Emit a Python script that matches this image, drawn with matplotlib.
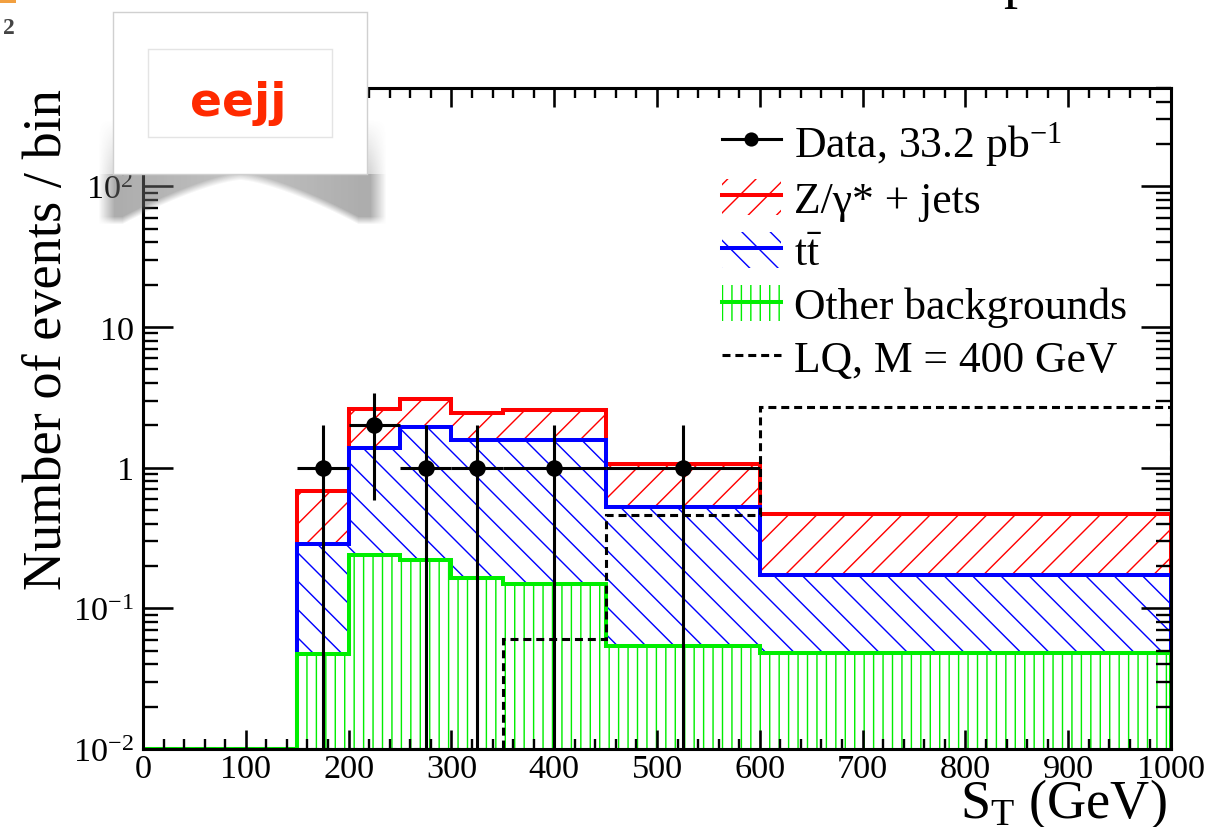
import numpy as np
import matplotlib
matplotlib.use("Agg")
import matplotlib.pyplot as plt
from matplotlib.lines import Line2D
from matplotlib.patches import Rectangle
from matplotlib.ticker import FixedLocator, MultipleLocator, LogLocator, NullFormatter

plt.rcParams["font.family"] = ["Liberation Serif", "DejaVu Serif"]
plt.rcParams["mathtext.fontset"] = "custom"
plt.rcParams["mathtext.rm"] = "Liberation Serif"
plt.rcParams["mathtext.it"] = "Liberation Serif:italic"
plt.rcParams["mathtext.bf"] = "Liberation Serif:bold"
plt.rcParams["hatch.linewidth"] = 0.6

# S_T binning (GeV)
bin_edges = [0, 150, 200, 250, 300, 350, 450, 600, 1000]

# background components, events / bin
other_bkg = [0, 0.047, 0.24, 0.22, 0.165, 0.15, 0.054, 0.048]
ttbar = [0, 0.24, 1.14, 1.71, 1.42, 1.43, 0.47, 0.124]
zjets = [0, 0.39, 1.22, 1.17, 0.87, 0.97, 0.53, 0.30]

# LQ signal, M = 400 GeV
lq_400 = [0, 0, 0, 0, 0, 0.061, 0.46, 2.7]

# data, 33.2 pb-1
data_lo = [150, 200, 250, 300, 350, 450]
data_hi = [200, 250, 300, 350, 450, 600]
data_counts = [1, 2, 1, 1, 1, 1]

x_ticks = [0, 100, 200, 300, 400, 500, 600, 700, 800, 900, 1000]
y_ticks = [0.01, 0.1, 1, 10, 100]
y_tick_labels = ["$10^{-2}$", "$10^{-1}$", "1", "10", "$10^{2}$"]

legend_labels = ["Data, 33.2 pb$^{-1}$", "Z/\u03b3* + jets", r"$\mathrm{t\bar{t}}$",
                 "Other backgrounds", "LQ, M = 400 GeV"]

YMIN, YMAX = 0.01, 500

##################################################

DPI = 170
fig = plt.figure(figsize=(1209 / DPI, 828 / DPI), dpi=DPI)
ax = fig.add_axes([143 / 1209, 1 - 750 / 828, 1028 / 1209, 661 / 828])

edges = np.array(bin_edges, dtype=float)
s_other = np.array(other_bkg)
s_tt = s_other + np.array(ttbar)
s_z = s_tt + np.array(zjets)

stack = [
    (s_z, "red", "//"),
    (s_tt, "blue", "\\\\"),
    (s_other, "#00ee00", "|||"),
]

for vals, col, hatch in stack:
    v = np.maximum(vals, YMIN)
    ax.stairs(v, edges, baseline=YMIN, fill=True, facecolor="white",
              edgecolor=col, linewidth=0, hatch=hatch)
    ax.stairs(v, edges, baseline=YMIN, fill=False, color=col, linewidth=1.7)

lq = np.maximum(np.array(lq_400), YMIN)
ax.stairs(lq, edges, baseline=YMIN, fill=False, color="black",
          linewidth=1.3, linestyle=(0, (2.6, 1.6)), zorder=3)

lo = np.array(data_lo, dtype=float)
hi = np.array(data_hi, dtype=float)
n = np.array(data_counts, dtype=float)
xc = 0.5 * (lo + hi)
err_dn = n - np.maximum(n - np.sqrt(n), 1e-4)
err_up = np.sqrt(n)
ax.errorbar(xc, n, xerr=[xc - lo, hi - xc], yerr=[err_dn, err_up], fmt="o",
            color="black", ms=6, lw=1.3, capsize=0, zorder=5)

ax.set_yscale("log")
ax.set_xlim(0, 1000)
ax.set_ylim(YMIN, YMAX)

ax.xaxis.set_major_locator(FixedLocator(x_ticks))
ax.xaxis.set_minor_locator(MultipleLocator(20))
ax.set_xticklabels([str(t) for t in x_ticks])
ax.yaxis.set_major_locator(FixedLocator(y_ticks))
ax.set_yticklabels(y_tick_labels)
ax.yaxis.set_minor_locator(LogLocator(base=10, subs=np.arange(2, 10)))
ax.yaxis.set_minor_formatter(NullFormatter())

ax.tick_params(axis="both", which="both", direction="in", top=True, right=True)
ax.tick_params(axis="x", which="major", length=8, width=1.1, pad=2, labelsize=14.5)
ax.tick_params(axis="x", which="minor", length=4.2, width=1.0)
ax.tick_params(axis="y", which="major", length=12.7, width=1.1, pad=4, labelsize=14.5)
ax.tick_params(axis="y", which="minor", length=6.4, width=1.0)
for sp in ax.spines.values():
    sp.set_linewidth(1.3)

fig.text(48 / 1209, 1 - 340 / 828, "Number of events / bin", rotation=90,
         ha="center", va="center", fontsize=23)
fig.text(1167 / 1209, 1 - 818 / 828, "S$_{\\mathrm{T}}$ (GeV)", ha="right",
         va="baseline", fontsize=23)

# legend
h_data = Line2D([], [], color="black", lw=1.3, marker="o", ms=5)
handles = [h_data]
for _, col, hatch in stack:
    handles.append((Rectangle((0, 0), 1, 1, facecolor="white", edgecolor=col,
                              linewidth=0, hatch=hatch),
                    Line2D([], [], color=col, lw=1.7)))
handles.append(Line2D([], [], color="black", lw=1.3, linestyle=(0, (2.6, 1.6))))
ax.legend(handles, legend_labels, loc="upper left", bbox_to_anchor=(0.563, 0.953),
          frameon=False, fontsize=18.5, handlelength=1.35, handleheight=0.9,
          handletextpad=0.3, labelspacing=0.25, borderpad=0, borderaxespad=0)

##################################################
# overlay: "eejj" label box with curled shadow, page remnants

ov = fig.add_axes([0, 0, 1, 1], zorder=10)

sx = np.arange(96, 390)
sy = np.arange(120, 236)
XX, YY = np.meshgrid(sx, sy)
u = np.clip(np.abs(XX - 240) / 118.0, 0, 1)
depth = 6 + 44 * u ** 1.4
below = np.clip((depth - (YY - 175)) / 8.0, 0, 1) * (0.75 + 0.25 * u)
below = np.where(YY >= 175, below, 0.5 * np.clip((YY - 120) / 55.0, 0, 1))
side = np.clip((XX - 98) / 16.0, 0, 1) * np.clip((386 - XX) / 16.0, 0, 1)
alpha = 0.55 * below * side
rgba = np.zeros(alpha.shape + (4,))
rgba[..., :3] = 0.42
rgba[..., 3] = alpha
ov.imshow(rgba, extent=(96, 390, 236, 120), interpolation="bilinear",
          aspect="auto", zorder=1)
ov.set_xlim(0, 1209)
ov.set_ylim(828, 0)
ov.axis("off")

ov.add_patch(Rectangle((113, 13), 254, 162, facecolor="white",
                       edgecolor="#d0d0d0", linewidth=0.6, zorder=2))
ov.add_patch(Rectangle((148, 50), 184, 88, facecolor="none",
                       edgecolor="#e4e4e4", linewidth=0.6, zorder=3))
ov.text(238, 104, "eejj", color="#ff2a00", fontsize=20, fontweight="bold",
        family="DejaVu Sans", ha="center", va="center", zorder=4)

ov.add_patch(Rectangle((0, 0), 16, 4, facecolor="#f2a040", edgecolor="none"))
ov.text(9, 28, "2", color="#444444", fontsize=10, fontweight="bold",
        ha="center", va="center")
ov.text(1017, -3, "p", fontsize=24, ha="center", va="baseline", clip_on=False)

fig.savefig("out.png", dpi=DPI)
